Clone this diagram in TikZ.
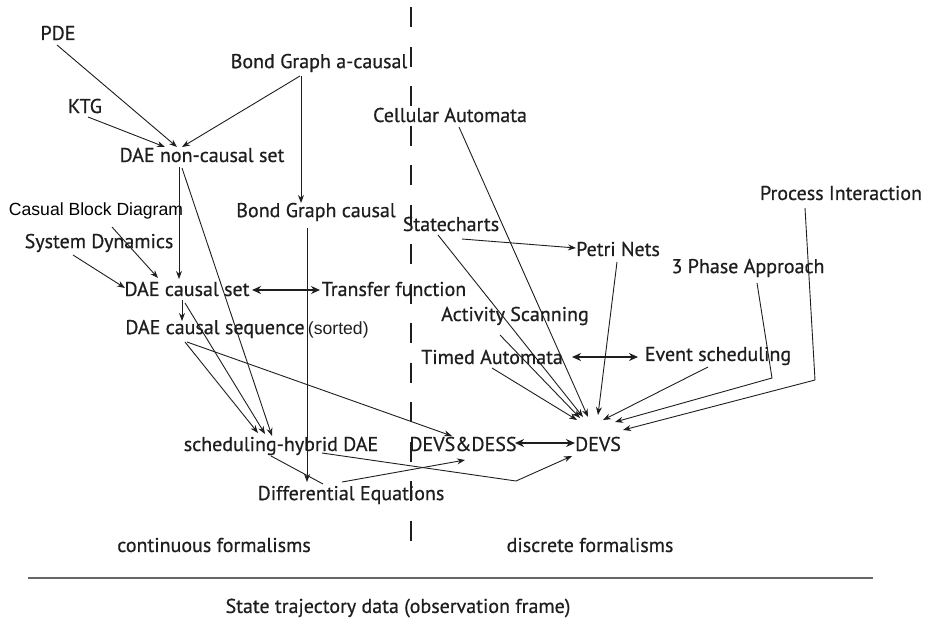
\documentclass[tikz,border=0pt]{standalone}
\usepackage{fontspec}
\setmainfont[FakeBold=0.6]{PT Sans}
\newfontfamily\arialfont{Liberation Sans}
\usetikzlibrary{arrows.meta}
\definecolor{ink}{HTML}{1E1E1E}
\begin{document}
\begin{tikzpicture}[x=1pt,y=-1pt,
  lbl/.style={inner sep=0pt, text=ink, font=\fontsize{20}{22}\selectfont},
  arl/.style={inner sep=0pt, text=black, font=\arialfont\fontsize{17.6}{20}\selectfont},
  con/.style={draw=ink, line width=0.9pt, -{Stealth[length=8pt,width=6pt]}},
  plainline/.style={draw=ink, line width=0.9pt},
  dbl/.style={draw=ink, line width=1.8pt, {Stealth[length=9pt,width=8pt]}-{Stealth[length=9pt,width=8pt]}},
]
\useasboundingbox (0,0) rectangle (928,619);

% nodes
\node[lbl] (pde)  at (58,33)  {PDE};
\node[lbl] (ktg)  at (85,106) {KTG};
\node[lbl] (bga)  at (319,63) {Bond Graph a-causal};
\node[lbl] (daen) at (202,155) {DAE non-causal set};
\node[lbl] (ca)   at (450,115) {Cellular Automata};
\node[arl] (cbd)  at (96,211) {Casual Block Diagram};
\node[lbl] (bgc)  at (316,212) {Bond Graph causal};
\node[lbl] (pi)   at (841,193) {Process Interaction};
\node[lbl] (sc)   at (451,224) {Statecharts};
\node[lbl] (pn)   at (618,249) {Petri Nets};
\node[lbl] (sd)   at (99,243) {System Dynamics};
\node[lbl] (tpa)  at (748,268) {3 Phase Approach};
\node[lbl] (daec) at (187,289) {DAE causal set};
\node[lbl] (tf)   at (394,289) {Transfer function};
\node[lbl] (as)   at (515,316) {Activity Scanning};
\node[lbl] (daeq) at (247,329) {DAE causal sequence\,{\arialfont\fontsize{17.6}{20}\selectfont(sorted)}};
\node[lbl] (ta)   at (492,357) {Timed Automata};
\node[lbl] (es)   at (718,356) {Event scheduling};
\node[lbl] (sh)   at (281,446) {scheduling-hybrid DAE};
\node[lbl] (dd)   at (463,444) {DEVS\&DESS};
\node[lbl] (devs) at (598,444) {DEVS};
\node[lbl] (de)   at (351,495) {Differential Equations};
\node[lbl] (cont) at (214,545) {continuous formalisms};
\node[lbl] (disc) at (590,545) {discrete formalisms};
\node[lbl] (std)  at (398,608) {State trajectory data (observation frame)};

% separators
\draw[ink, line width=2.4pt, dash pattern=on 20pt off 19.5pt] (411,7) -- (411,546);
\draw[gray!80!black, line width=1.3pt] (28,578) -- (873,578);

% bend points
\coordinate (b1) at (516,481);
\coordinate (b2) at (772,378);
\coordinate (b3) at (815,380);

% left side connectors
\draw[con] ([shift={(-1,12)}]pde.center) -- ([shift={(-25,-8)}]daen.center);
\draw[con] ([shift={(3,11)}]ktg.center) -- ([shift={(-37,-8)}]daen.center);
\draw[con] ([shift={(-19,13)}]bga.center) -- ([shift={(-20,-8)}]daen.center);
\draw[con] ([shift={(-18,13)}]bga.center) -- ([shift={(-15,-9)}]bgc.center);
\draw[con] ([shift={(-23,12)}]daen.center) -- ([shift={(-8,-10)}]daec.center);
\draw[con] ([shift={(-20,13)}]daen.center) -- ([shift={(-9,-10)}]sh.center);
\draw[con] ([shift={(-26,12)}]sd.center) -- ([shift={(-62,-1)}]daec.center);
\draw[con] ([shift={(16,16)}]cbd.center) -- ([shift={(-29,-11)}]daec.center);
\draw[dbl] ([shift={(65,1)}]daec.center) -- ([shift={(-74,1)}]tf.center);
\draw[con] ([shift={(-5,11)}]daec.center) -- ([shift={(-65,-8)}]daeq.center);
\draw[con] ([shift={(-2,14)}]daec.center) -- ([shift={(-16,-12)}]sh.center);
\draw[con] ([shift={(-62,13)}]daeq.center) -- ([shift={(-23,-13)}]sh.center);
\draw[con] ([shift={(-60,13)}]daeq.center) -- ([shift={(-11,-8)}]dd.center);
\draw[con] ([shift={(-9,16)}]bgc.center) -- ([shift={(-44,-13)}]de.center);
\draw[plainline] ([shift={(-10,10)}]sh.center) -- ([shift={(-28,-11)}]de.center);
\draw[con] ([shift={(-9,-13)}]de.center) -- ([shift={(2,16)}]dd.center);
\draw[con] ([shift={(41,7)}]sh.center) -- (b1) -- ([shift={(-26,12)}]devs.center);
\draw[dbl] ([shift={(52,-1)}]dd.center) -- ([shift={(-23,-1)}]devs.center);

% right side connectors
\draw[con] ([shift={(11,15)}]sc.center) -- ([shift={(-42,-1)}]pn.center);
\draw[con] ([shift={(9,12)}]ca.center) -- ([shift={(-10,-27)}]devs.center);
\draw[con] ([shift={(-13,11)}]sc.center) -- ([shift={(-15,-27)}]devs.center);
\draw[con] ([shift={(-15,19)}]as.center) -- ([shift={(-18,-26)}]devs.center);
\draw[con] ([shift={(0,11)}]ta.center) -- ([shift={(-21,-24)}]devs.center);
\draw[con] ([shift={(-1,13)}]pn.center) -- ([shift={(0,-29)}]devs.center);
\draw[con] ([shift={(-10,11)}]es.center) -- ([shift={(5,-24)}]devs.center);
\draw[con] ([shift={(9,15)}]tpa.center) -- (b2) -- ([shift={(17,-22)}]devs.center);
\draw[con] ([shift={(-36,15)}]pi.center) -- (b3) -- ([shift={(25,-14)}]devs.center);
\draw[dbl] ([shift={(80,0)}]ta.center) -- ([shift={(-80,1)}]es.center);
\end{tikzpicture}
\end{document}
